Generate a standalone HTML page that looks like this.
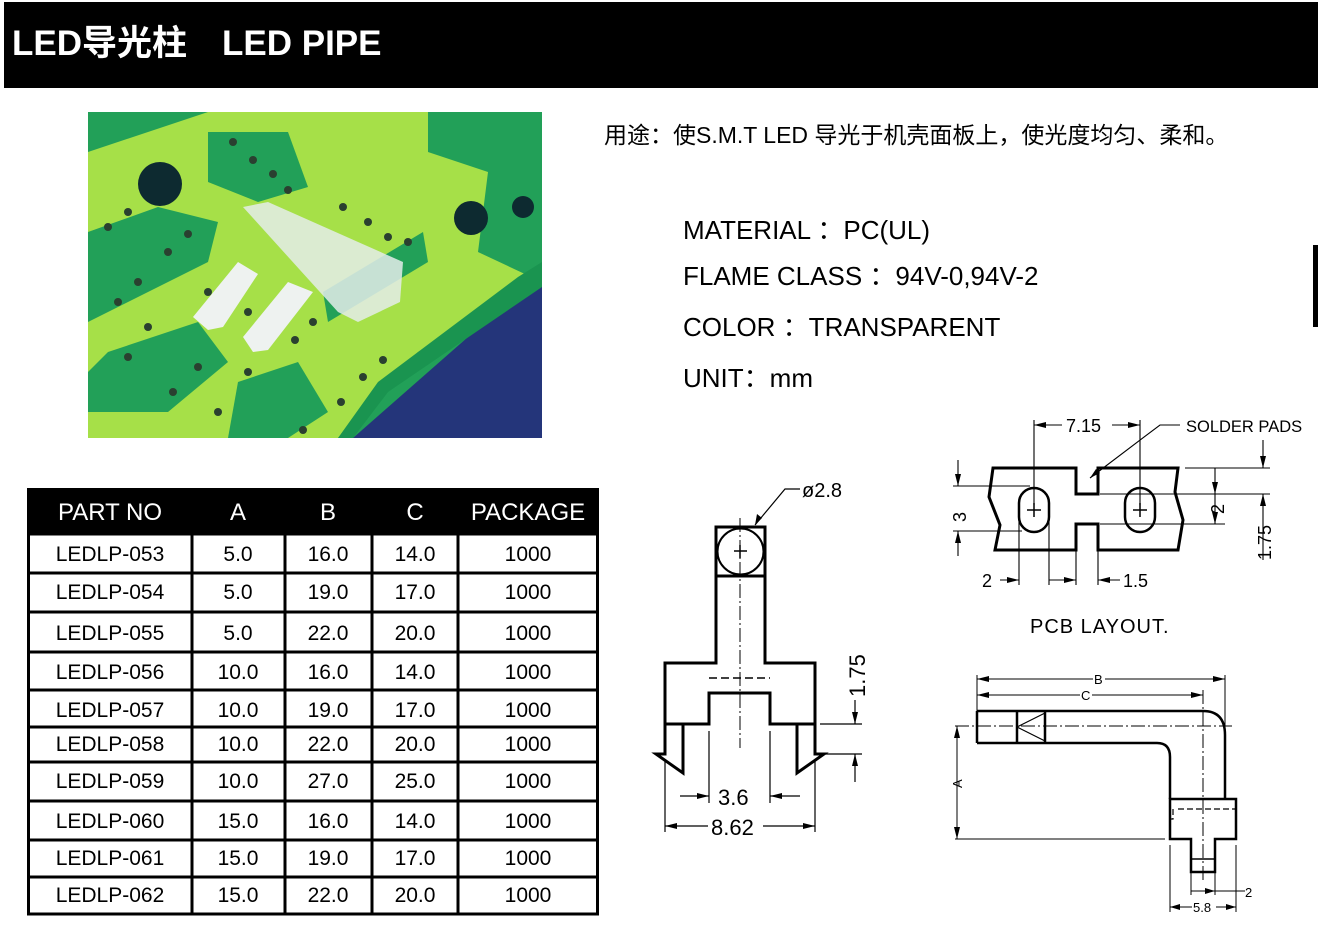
<!DOCTYPE html>
<html><head><meta charset="utf-8"><style>
body{margin:0;background:#fff;}
svg{display:block}
text{font-family:"Liberation Sans","Noto Sans CJK SC",sans-serif;}
</style></head><body>
<svg width="1318" height="928" viewBox="0 0 1318 928" xmlns="http://www.w3.org/2000/svg">
<rect x="4" y="2" width="1314" height="86" fill="#000"/>
<text x="12" y="55" font-size="35" font-weight="bold" fill="#fff" font-family="'Liberation Sans','Noto Sans CJK SC',sans-serif">LED导光柱　LED PIPE</text>
<rect x="1313" y="245" width="5" height="82" fill="#000"/>

<!-- photo -->
<g transform="translate(88,112)">
<rect width="454" height="326" fill="#22a058"/>
<polygon points="454,160 454,326 265,326" fill="#24357a"/>
<polygon points="0,40 120,0 340,0 340,40 400,60 390,140 454,170 330,240 250,326 0,326" fill="#a6e048"/>
<polygon points="120,20 200,20 220,75 170,90 120,70" fill="#22a058"/>
<polygon points="235,180 335,120 340,150 240,210" fill="#22a058"/>
<polygon points="0,120 70,95 130,110 120,150 20,200 0,210" fill="#22a058"/>
<polygon points="20,240 110,210 140,250 80,300 0,300 0,260" fill="#22a058"/>
<polygon points="150,270 210,250 240,300 200,326 140,326" fill="#22a058"/>
<polygon points="430,165 454,150 454,175 300,280 265,326 250,326 290,270" fill="#1a9450"/>
<circle cx="72" cy="72" r="22" fill="#0d2a30"/>
<circle cx="383" cy="106" r="17" fill="#0d2a30"/>
<circle cx="435" cy="95" r="11" fill="#0d2a30"/>
<g fill="#2a4030">
<circle cx="145" cy="30" r="4"/><circle cx="165" cy="48" r="4"/><circle cx="185" cy="62" r="4"/><circle cx="200" cy="78" r="4"/>
<circle cx="40" cy="100" r="4"/><circle cx="20" cy="115" r="4"/><circle cx="100" cy="122" r="4"/><circle cx="80" cy="140" r="4"/>
<circle cx="50" cy="170" r="4"/><circle cx="30" cy="190" r="4"/><circle cx="60" cy="215" r="4"/><circle cx="40" cy="245" r="4"/>
<circle cx="110" cy="255" r="4"/><circle cx="85" cy="280" r="4"/><circle cx="130" cy="300" r="4"/><circle cx="160" cy="260" r="4"/>
<circle cx="255" cy="95" r="4"/><circle cx="280" cy="110" r="4"/><circle cx="300" cy="125" r="4"/><circle cx="320" cy="130" r="4"/>
<circle cx="225" cy="210" r="4"/><circle cx="207" cy="228" r="4"/><circle cx="275" cy="265" r="4"/><circle cx="253" cy="290" r="4"/>
<circle cx="295" cy="248" r="4"/><circle cx="215" cy="318" r="4"/><circle cx="120" cy="180" r="4"/><circle cx="160" cy="200" r="4"/>
</g>
<polygon points="155,95 180,90 315,150 312,190 270,210 250,200" fill="#e4ecea" opacity="0.85"/>
<polygon points="105,205 150,150 170,162 135,215 120,218" fill="#eef2f0"/>
<polygon points="155,225 200,170 225,180 180,238 165,240" fill="#eef2f0"/>
</g>

<text x="604" y="143" font-size="23" fill="#000">用途：使S.M.T LED 导光于机壳面板上，使光度均匀、柔和。</text>
<g font-size="26" fill="#000">
<text x="683" y="239">MATERIAL ：PC(UL)</text>
<text x="683" y="285">FLAME CLASS ：94V-0,94V-2</text>
<text x="683" y="336">COLOR ：TRANSPARENT</text>
<text x="683" y="387">UNIT：mm</text>
</g>

<!-- table -->
<g>
<rect x="27" y="488" width="572" height="47" fill="#000"/>
<rect x="28.5" y="534" width="569" height="380" fill="none" stroke="#000" stroke-width="3"/>
<g stroke="#000" stroke-width="3">
<line x1="192" y1="534" x2="192" y2="914"/><line x1="285" y1="534" x2="285" y2="914"/>
<line x1="372" y1="534" x2="372" y2="914"/><line x1="458" y1="534" x2="458" y2="914"/>
<line x1="27" y1="573" x2="599" y2="573"/><line x1="27" y1="612" x2="599" y2="612"/>
<line x1="27" y1="652" x2="599" y2="652"/><line x1="27" y1="690" x2="599" y2="690"/>
<line x1="27" y1="727" x2="599" y2="727"/><line x1="27" y1="762" x2="599" y2="762"/>
<line x1="27" y1="801" x2="599" y2="801"/><line x1="27" y1="840" x2="599" y2="840"/>
<line x1="27" y1="877" x2="599" y2="877"/>
</g>
<g font-size="24" fill="#fff" text-anchor="middle">
<text x="110" y="520">PART NO</text><text x="238" y="520">A</text><text x="328" y="520">B</text><text x="415" y="520">C</text><text x="528" y="520">PACKAGE</text>
</g>
<g font-size="21" fill="#000" text-anchor="middle">
<text x="110" y="561">LEDLP-053</text><text x="238" y="561">5.0</text><text x="328" y="561">16.0</text><text x="415" y="561">14.0</text><text x="528" y="561">1000</text>
<text x="110" y="599">LEDLP-054</text><text x="238" y="599">5.0</text><text x="328" y="599">19.0</text><text x="415" y="599">17.0</text><text x="528" y="599">1000</text>
<text x="110" y="640">LEDLP-055</text><text x="238" y="640">5.0</text><text x="328" y="640">22.0</text><text x="415" y="640">20.0</text><text x="528" y="640">1000</text>
<text x="110" y="679">LEDLP-056</text><text x="238" y="679">10.0</text><text x="328" y="679">16.0</text><text x="415" y="679">14.0</text><text x="528" y="679">1000</text>
<text x="110" y="717">LEDLP-057</text><text x="238" y="717">10.0</text><text x="328" y="717">19.0</text><text x="415" y="717">17.0</text><text x="528" y="717">1000</text>
<text x="110" y="751">LEDLP-058</text><text x="238" y="751">10.0</text><text x="328" y="751">22.0</text><text x="415" y="751">20.0</text><text x="528" y="751">1000</text>
<text x="110" y="788">LEDLP-059</text><text x="238" y="788">10.0</text><text x="328" y="788">27.0</text><text x="415" y="788">25.0</text><text x="528" y="788">1000</text>
<text x="110" y="828">LEDLP-060</text><text x="238" y="828">15.0</text><text x="328" y="828">16.0</text><text x="415" y="828">14.0</text><text x="528" y="828">1000</text>
<text x="110" y="865">LEDLP-061</text><text x="238" y="865">15.0</text><text x="328" y="865">19.0</text><text x="415" y="865">17.0</text><text x="528" y="865">1000</text>
<text x="110" y="902">LEDLP-062</text><text x="238" y="902">15.0</text><text x="328" y="902">22.0</text><text x="415" y="902">20.0</text><text x="528" y="902">1000</text>
</g>
</g>

<!-- drawing 1 -->
<g fill="none" stroke="#000">
<rect x="716" y="527" width="49" height="49" stroke-width="3"/>
<circle cx="740.5" cy="551.5" r="23" stroke-width="2"/>
<path d="M716,576 V663 H665 V724 H709 V693 H770 V724 H815 V663 H765 V576" stroke-width="3"/>
<path d="M709,678 H770" stroke-width="1.5" stroke-dasharray="8,4"/>
<path d="M665,724 V754 H656 L683,773 V724 Z" stroke-width="3"/>
<path d="M815,724 V754 H824 L797,773 V724 Z" stroke-width="3"/>
<path d="M740,518 V748" stroke-width="1" stroke-dasharray="14,3,2,3"/>
<path d="M734,551 H747 M740,545 V558" stroke-width="1.5"/>
<g stroke-width="1.2">
<path d="M755,525 L785,489 H800"/>
<path d="M709,731 V803 M770,731 V803 M680,796 H709 M770,796 H800"/>
<path d="M665,760 V832 M815,760 V832 M665,826 H708 M763,826 H815"/>
<path d="M820,724 H862 M820,754 H862 M855,700 V724 M855,754 V782"/>
</g>
</g>
<g fill="#000">
<polygon points="755,525 757,514 762,518"/>
<polygon points="709,796 697,793 697,799"/><polygon points="770,796 782,793 782,799"/>
<polygon points="665,826 677,823 677,829"/><polygon points="815,826 803,823 803,829"/>
<polygon points="855,724 852,712 858,712"/><polygon points="855,754 852,766 858,766"/>
</g>
<g font-size="22" fill="#000" font-family="'DejaVu Sans',sans-serif">
<text x="802" y="497" font-size="20">ø2.8</text>
<text x="718" y="805">3.6</text>
<text x="711" y="835">8.62</text>
<text transform="translate(865,697) rotate(-90)">1.75</text>
</g>

<!-- PCB layout -->
<g fill="none" stroke="#000">
<path d="M993,468 H1076 V494 H1098 V468 H1178 L1175,492 L1183,520 L1178,550 H1098 V524 H1076 V550 H995 L1000,525 L989,497 Z" stroke-width="3"/>
<rect x="1019" y="488" width="30" height="44" rx="15" stroke-width="2.5"/>
<rect x="1125" y="488" width="30" height="44" rx="15" stroke-width="2.5"/>
<path d="M1027,510 H1041 M1034,503 V517 M1133,510 H1147 M1140,503 V517" stroke-width="1.5"/>
<g stroke-width="1.1">
<path d="M1034,420 V505 M1140,420 V505 M1034,425 H1062 M1112,425 H1140"/>
<path d="M1090,478 L1160,425 H1180"/>
<path d="M953,486 H1030 M953,531 H1022 M958,460 V486 M958,531 V556"/>
<path d="M1185,468 H1270 M1100,494 H1270 M1100,524 H1225 M1215,468 V524 M1263,440 V468 M1263,494 V560"/>
<path d="M1019,520 V585 M1049,520 V585 M1076,550 V585 M1098,550 V585 M1000,580 H1019 M1049,580 H1076 M1098,580 H1120"/>
</g>
</g>
<g fill="#000">
<polygon points="1034,425 1046,422 1046,428"/><polygon points="1140,425 1128,422 1128,428"/>
<polygon points="1090,478 1096,469 1100,473"/>
<polygon points="958,486 955,474 961,474"/><polygon points="958,531 955,543 961,543"/>
<polygon points="1215,494 1212,482 1218,482"/><polygon points="1215,524 1212,512 1218,512"/>
<polygon points="1263,468 1260,456 1266,456"/><polygon points="1263,494 1260,506 1266,506"/>
<polygon points="1019,580 1007,577 1007,583"/><polygon points="1076,580 1064,577 1064,583"/><polygon points="1098,580 1110,577 1110,583"/>
</g>
<g font-size="18" fill="#000" font-family="'DejaVu Sans',sans-serif">
<text x="1066" y="432">7.15</text>
<text x="1186" y="432" font-size="16.5">SOLDER PADS</text>
<text transform="translate(966,522) rotate(-90)">3</text>
<text transform="translate(1224,514) rotate(-90)">2</text>
<text transform="translate(1271,560) rotate(-90)">1.75</text>
<text x="982" y="587">2</text>
<text x="1123" y="587">1.5</text>
<text x="1030" y="633" font-size="20" letter-spacing="1">PCB LAYOUT.</text>
</g>

<!-- side view -->
<g fill="none" stroke="#000">
<path d="M977,711 H1203 Q1225,711 1225,735 V799 M977,743 H1157 Q1170,743 1170,757 V799" stroke-width="2.5"/>
<path d="M977,711 V743 M1017,711 V743 M1045,711 V743" stroke-width="2.5"/>
<path d="M1017,727 L1045,713 M1017,727 L1045,741" stroke-width="1.2"/>
<path d="M1170,799 H1236 V839 H1215 V872 H1191 V839 H1170 Z" stroke-width="2.5"/>
<path d="M1191,859 H1215" stroke-width="1.5"/>
<path d="M1178,809 H1236 M1173,809 V819 H1170" stroke-width="1.2" stroke-dasharray="6,3"/>
<path d="M955,726 H1232" stroke-width="1" stroke-dasharray="14,3,2,3"/>
<path d="M1203,690 V880" stroke-width="1" stroke-dasharray="14,3,2,3"/>
<g stroke-width="1">
<path d="M977,675 V711 M1225,675 V730 M977,679 H1225 M977,695 H1203"/>
<path d="M955,839 H1165 M957,726 V839"/>
<path d="M1170,845 V912 M1236,845 V912 M1170,907 H1236 M1191,872 V895 M1215,872 V895 M1191,891 H1245"/>
</g>
</g>
<g fill="#000">
<polygon points="977,679 989,676 989,682"/><polygon points="1225,679 1213,676 1213,682"/>
<polygon points="977,695 989,692 989,698"/><polygon points="1203,695 1191,692 1191,698"/>
<polygon points="957,726 954,738 960,738"/><polygon points="957,839 954,827 960,827"/>
<polygon points="1170,907 1180,904 1180,910"/><polygon points="1236,907 1226,904 1226,910"/>
<polygon points="1215,891 1205,888 1205,894"/>
</g>
<g font-size="13" fill="#000" font-family="'DejaVu Sans',sans-serif">
<rect x="1093" y="672" width="12" height="14" fill="#fff"/><text x="1094" y="684">B</text>
<rect x="1080" y="688" width="12" height="14" fill="#fff"/><text x="1081" y="700">C</text>
<text transform="translate(962,788) rotate(-90)">A</text>
<rect x="1192" y="900" width="24" height="14" fill="#fff"/><text x="1193" y="912">5.8</text>
<text x="1245" y="897">2</text>
</g>
</svg>
</body></html>
